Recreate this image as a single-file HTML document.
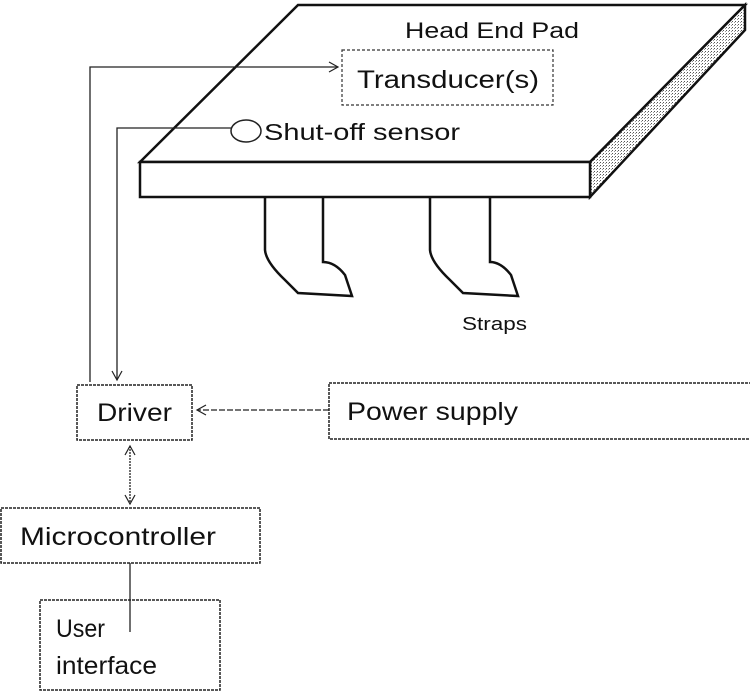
<!DOCTYPE html>
<html><head><style>
html,body{margin:0;padding:0;background:#fff;}
svg{display:block}
text{font-family:"Liberation Sans",sans-serif;fill:#111}
</style></head><body>
<svg width="750" height="695" viewBox="0 0 750 695" xmlns="http://www.w3.org/2000/svg">
<defs>
<pattern id="dots" width="3" height="3" patternUnits="userSpaceOnUse"><rect width="3" height="3" fill="#fff"/><rect width="1" height="1" fill="#555"/><rect x="2" y="1" width="1" height="1" fill="#999"/></pattern>
<marker id="ah" markerWidth="12" markerHeight="12" refX="10" refY="6" orient="auto" markerUnits="userSpaceOnUse"><path d="M1,1 L10,6 L1,11" fill="none" stroke="#222" stroke-width="1.2"/></marker>
<marker id="ahs" markerWidth="12" markerHeight="12" refX="2" refY="6" orient="auto" markerUnits="userSpaceOnUse"><path d="M11,1 L2,6 L11,11" fill="none" stroke="#222" stroke-width="1.2"/></marker>
</defs>
<g stroke="#111" stroke-width="2.5" fill="none">
<path d="M140,162 L298,5 L745,5 L590,162 Z" fill="#fff"/>
<path d="M590,162 L745,5 L745,30 L590,197 Z" fill="url(#dots)"/>
<rect x="140" y="162" width="450" height="35" fill="#fff"/>
<path d="M265,197 L265,250 Q266,262 285,280 L298,293 L352,296 L345,275 Q335,262 323,262 L323,197"/>
<path d="M430,197 L430,250 Q431,262 450,280 L463,293 L518,296 L511,275 Q501,262 490,262 L490,197"/>
</g>
<rect x="342" y="50" width="211" height="55" fill="none" stroke="#333" stroke-width="1.2" stroke-dasharray="3,2"/>
<text x="405" y="38" font-size="22" textLength="174" lengthAdjust="spacingAndGlyphs">Head End Pad</text>
<text x="357" y="88" font-size="25" textLength="182" lengthAdjust="spacingAndGlyphs">Transducer(s)</text>
<ellipse cx="246" cy="131" rx="15" ry="11" fill="none" stroke="#222" stroke-width="1.5"/>
<text x="264" y="140" font-size="23" textLength="196" lengthAdjust="spacingAndGlyphs">Shut-off sensor</text>
<text x="462" y="330" font-size="18" textLength="65" lengthAdjust="spacingAndGlyphs">Straps</text>
<g stroke="#222" stroke-width="1.3" fill="none">
<path d="M90,382 L90,67 L338,67" marker-end="url(#ah)"/>
<path d="M231,128 L117,128 L117,380" marker-end="url(#ah)"/>
<path d="M329,410 L197,410" marker-end="url(#ah)" stroke-dasharray="6,2"/>
<path d="M130,446 L130,504" marker-start="url(#ahs)" marker-end="url(#ah)" stroke-dasharray="2,1"/>
<path d="M130,563 L130,632"/>
</g>
<g fill="none" stroke="#222" stroke-width="1.5" stroke-dasharray="3,1">
<rect x="77" y="385" width="115" height="55"/>
<rect x="329" y="383" width="430" height="56"/>
<rect x="1" y="508" width="259" height="55"/>
<rect x="40" y="600" width="180" height="90"/>
</g>
<text x="97" y="421" font-size="25" textLength="75" lengthAdjust="spacingAndGlyphs">Driver</text>
<text x="347" y="420" font-size="25" textLength="171" lengthAdjust="spacingAndGlyphs">Power supply</text>
<text x="20" y="545" font-size="25" textLength="196" lengthAdjust="spacingAndGlyphs">Microcontroller</text>
<text x="56" y="637" font-size="25" textLength="49" lengthAdjust="spacingAndGlyphs">User</text>
<text x="56" y="674" font-size="25" textLength="101" lengthAdjust="spacingAndGlyphs">interface</text>
</svg>
</body></html>
